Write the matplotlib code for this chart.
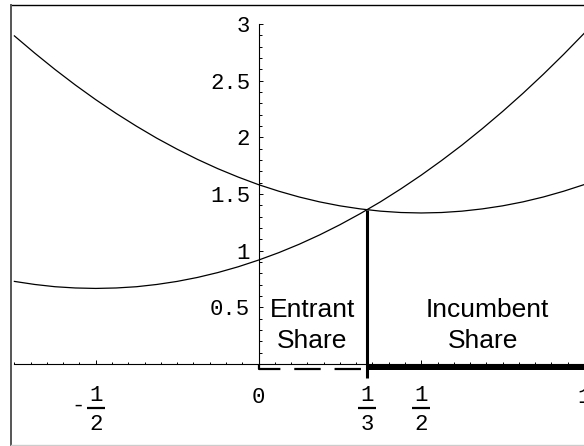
import numpy as np
import matplotlib
matplotlib.use("Agg")
import matplotlib.pyplot as plt
from matplotlib.lines import Line2D

plt.rcParams["lines.scale_dashes"] = False

x_grid = [-0.75, -0.6875, -0.625, -0.5625, -0.5, -0.4375, -0.375, -0.3125,
          -0.25, -0.1875, -0.125, -0.0625, 0.0, 0.0625, 0.125, 0.1875,
          0.25, 0.3125, 0.375, 0.4375, 0.5, 0.5625, 0.625, 0.6875,
          0.75, 0.8125, 0.875, 0.9375, 1.0]
curve_a = [2.896, 2.744, 2.599, 2.462, 2.333, 2.212, 2.099, 1.993,
           1.896, 1.806, 1.724, 1.650, 1.583, 1.525, 1.474, 1.431,
           1.396, 1.369, 1.349, 1.337, 1.333, 1.337, 1.349, 1.369,
           1.396, 1.431, 1.474, 1.525, 1.583]
curve_b = [0.729, 0.702, 0.682, 0.671, 0.667, 0.671, 0.682, 0.702,
           0.729, 0.764, 0.807, 0.858, 0.917, 0.983, 1.057, 1.139,
           1.229, 1.327, 1.432, 1.546, 1.667, 1.796, 1.932, 2.077,
           2.229, 2.389, 2.557, 2.733, 2.917]

# split point where the two curves cross
split_x = 1 / 3
split_y = 1.361

y_ticks = [0.5, 1, 1.5, 2, 2.5, 3]
y_labels = ["0.5", "1", "1.5", "2", "2.5", "3"]
x_label_pos = [-0.5, 0, 1 / 3, 0.5, 1]
x_labels = ["-1/2", "0", "1/3", "1/2", "1"]

mono = "Liberation Mono"
sans = "Liberation Sans"
fs_tick = 16

fig = plt.figure(figsize=(5.84, 4.46), dpi=100)
ax = fig.add_axes([0, 0, 1, 1])
ax.set_xlim(-259.3 / 326.5, (584 - 259.3) / 326.5)
ax.set_ylim(-(446 - 364) / 113.3, 364 / 113.3)
ax.patch.set_visible(False)

# axes through the origin
for s in ["top", "right"]:
    ax.spines[s].set_visible(False)
ax.spines["left"].set_position(("data", 0))
ax.spines["bottom"].set_position(("data", 0))
ax.spines["left"].set_bounds(0, 3)
ax.spines["bottom"].set_bounds(-0.75, 1)
ax.spines["left"].set_linewidth(0.8)
ax.spines["bottom"].set_linewidth(0.8)

ax.set_yticks(y_ticks)
ax.set_yticklabels(y_labels, fontfamily=mono, fontsize=fs_tick)
ax.set_yticks(np.arange(0, 3.01, 0.1), minor=True)
ax.set_xticks([-0.5, 0.5])
ax.set_xticks(np.arange(-0.75, 1.001, 0.05), minor=True)
ax.tick_params(axis="x", which="both", direction="in", labelbottom=False, width=0.7)
ax.tick_params(axis="y", which="both", direction="in", width=0.7, pad=6)
ax.tick_params(which="major", length=3)
ax.tick_params(which="minor", length=1.8)

# x tick labels, fractions stacked by hand like the original
for pos, lab in zip(x_label_pos, x_labels):
    if "/" in lab:
        neg = lab.startswith("-")
        num, den = lab.lstrip("-").split("/")
        ax.text(pos, -0.324, num, ha="center", va="baseline",
                fontfamily=mono, fontsize=fs_tick)
        ax.text(pos, -0.583, den, ha="center", va="baseline",
                fontfamily=mono, fontsize=fs_tick)
        ax.plot([pos - 0.027, pos + 0.027], [-0.388, -0.388], color="black",
                lw=1.6, solid_capstyle="butt")
        if neg:
            ax.text(pos - 0.054, -0.42, "-", ha="center", va="baseline",
                    fontfamily=mono, fontsize=fs_tick)
    else:
        ax.text(pos, -0.344, lab, ha="center", va="baseline",
                fontfamily=mono, fontsize=fs_tick)

ax.plot(x_grid, curve_a, color="black", lw=0.9)
ax.plot(x_grid, curve_b, color="black", lw=0.9)

# shares along the axis
ax.plot([split_x, split_x], [-0.125, split_y], color="black", lw=2.2,
        solid_capstyle="butt")
ax.plot([split_x, 1], [-0.026, -0.026], color="black", lw=3.6,
        solid_capstyle="butt")
ax.plot([0, 0, split_x], [0, -0.045, -0.045], color="black", lw=1.6,
        dashes=(19, 10), dash_capstyle="butt")

ax.text(0.165, 0.416, "Entrant", ha="center", va="baseline",
        fontfamily=sans, fontsize=19)
ax.text(0.165, 0.14, "Share", ha="center", va="baseline",
        fontfamily=sans, fontsize=19)
ax.text(0.702, 0.416, "Incumbent", ha="center", va="baseline",
        fontfamily=sans, fontsize=19)
ax.text(0.689, 0.14, "Share", ha="center", va="baseline",
        fontfamily=sans, fontsize=19)

# outer frame (cut off on the right)
W, H = 584.0, 446.0
fig.add_artist(Line2D([11 / W, 1], [1 - 5 / H, 1 - 5 / H],
                      transform=fig.transFigure, color="black", lw=1.0))
fig.add_artist(Line2D([11 / W, 11 / W], [1 - 5 / H, 1 - 445 / H],
                      transform=fig.transFigure, color="#555555", lw=1.4))
fig.add_artist(Line2D([11 / W, 1], [1 - 445 / H, 1 - 445 / H],
                      transform=fig.transFigure, color="#cccccc", lw=1.0))

fig.savefig("out.png", dpi=100)
